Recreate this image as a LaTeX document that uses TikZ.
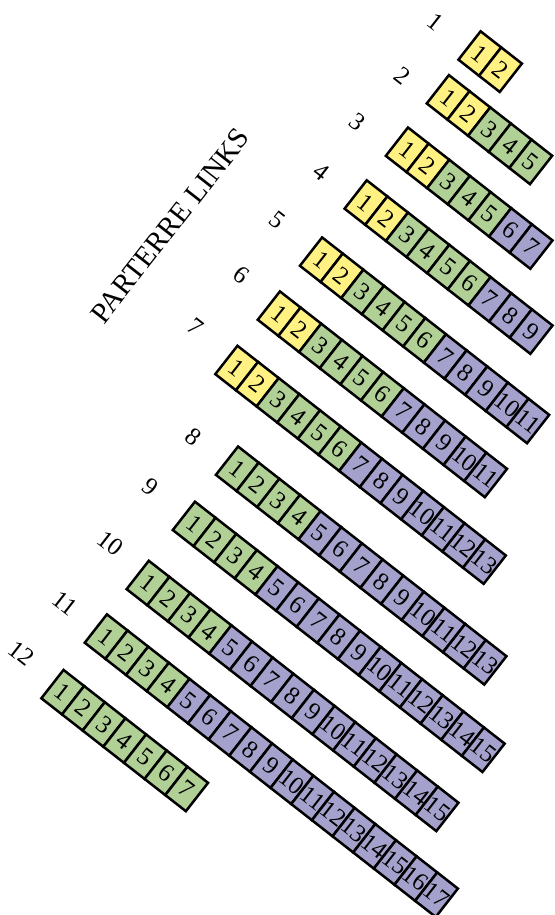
\documentclass[tikz,border=0pt]{standalone}
\usepackage{fontspec}
\setmainfont{Liberation Serif}
\usepackage{tikz}
\definecolor{bedYellow}{RGB}{255,241,130}
\definecolor{bedGreen}{RGB}{176,208,150}
\definecolor{bedPurple}{RGB}{164,162,204}
\tikzset{bed/.style={draw=black,fill=#1,line width=1.25pt,minimum width=13.1pt,
   minimum height=18pt,inner sep=0pt,transform shape,font=\fontsize{12.5}{14}\selectfont},
 rowlabel/.style={transform shape,inner sep=0pt,font=\fontsize{12.5}{14}\selectfont}}

\begin{document}
\begin{tikzpicture}[x=0.5pt,y=0.5pt]
\useasboundingbox (0,0) rectangle (555,915);
\begin{scope}[shift={(0,915)},rotate=-38]
\node[rotate=90,transform shape,inner sep=0pt,font=\fontsize{14.6}{17}\selectfont] (title) at (273,-73) {PARTERRE LINKS};
% row / start u / top v / yellow / green / beds / label u / label v
\foreach \r/\uo/\vt/\ny/\ng/\nn/\labu/\labv in {
 1/398/272.5/2/0/2/356.4/250.7,
 2/400/218.5/2/3/5/363.6/187.7,
 3/400/152/2/3/7/356.5/123.8,
 4/400/85/2/4/9/359.3/62.9,
 5/400/12.5/2/4/11/354/-2.6,
 6/400/-56/2/4/11/359.9/-67.8,
 7/400/-125/2/4/13/354.9/-137.3,
 8/462.5/-204/0/4/13/421.3/-225.5,
 9/462.5/-274/0/4/15/418/-291.1,
 10/462.5/-349/0/4/15/421.4/-360.3,
 11/462.5/-417/0/4/17/422.8/-435.4,
 12/462.5/-487.5/0/7/7/419.5/-501.4}{
 \node[rowlabel] (lab\r) at (\labu,\labv) {\r};
 \foreach \k in {1,...,\nn}{
  \ifnum\k>\numexpr\ny+\ng\relax \def\bedcol{bedPurple}%
  \else\ifnum\k>\ny\relax \def\bedcol{bedGreen}%
  \else \def\bedcol{bedYellow}\fi\fi
  \node[bed=\bedcol] (r\r b\k) at ({\uo+(\k-0.5)*26.2},{\vt-19.3}) {\k};
 }
}
\end{scope}
\end{tikzpicture}
\end{document}
